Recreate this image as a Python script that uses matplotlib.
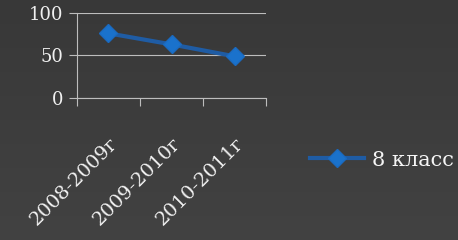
import matplotlib.pyplot as plt
import numpy as np

categories = ["2008-2009г", "2009-2010г", "2010-2011г"]
values = [76, 63, 49]
series_name = "8 класс"

plt.rcParams['font.family'] = ['DejaVu Serif']

fig = plt.figure(figsize=(4.58, 2.40), dpi=100)
fig.patch.set_facecolor('#3c3c3c')

# subtle vertical gradient background
bg = fig.add_axes([0, 0, 1, 1], zorder=-1)
grad = np.linspace(0, 1, 256).reshape(-1, 1)
bg.imshow(grad, aspect='auto', cmap=plt.matplotlib.colors.LinearSegmentedColormap.from_list(
    'bg', ['#383838', '#424242']), extent=[0, 1, 0, 1])
bg.axis('off')

ax = fig.add_axes([0.168, 0.592, 0.413, 0.354])
ax.set_facecolor('none')

x = np.arange(len(categories)) + 0.5
ax.plot(x, values, color='#1f5ca4', lw=3, marker='D', ms=9,
        markerfacecolor='#1a72cc', markeredgecolor='#1a6ac0', label=series_name)

ax.set_xlim(0, len(categories))
ax.set_ylim(0, 100)
ax.set_yticks([0, 50, 100])
ax.yaxis.grid(True, color='#bdbdbd', lw=0.8)
ax.set_axisbelow(True)

ax.set_xticks(np.arange(len(categories) + 1))
ax.set_xticklabels([])
ax.set_xticks(x, minor=True)
ax.set_xticklabels(categories, minor=True, rotation=45, ha='right',
                   rotation_mode='anchor', fontsize=14, color='#f0f0f0')
ax.tick_params(axis='x', which='major', length=6, color='#bdbdbd', direction='out')
ax.tick_params(axis='x', which='minor', length=0, pad=26)
ax.tick_params(axis='y', length=6, color='#bdbdbd', labelsize=13,
               labelcolor='#f0f0f0', pad=4)

for s in ['top', 'right']:
    ax.spines[s].set_visible(False)
ax.spines['left'].set_color('#bdbdbd')
ax.spines['bottom'].set_color('#bdbdbd')

leg = fig.legend(loc='center left', bbox_to_anchor=(0.677, 0.333), frameon=False,
                 fontsize=15, handlelength=2.6, handletextpad=0.35,
                 borderpad=0, borderaxespad=0)
for t in leg.get_texts():
    t.set_color('#f5f5f5')

fig.savefig('out.png', dpi=100, facecolor=fig.get_facecolor())
